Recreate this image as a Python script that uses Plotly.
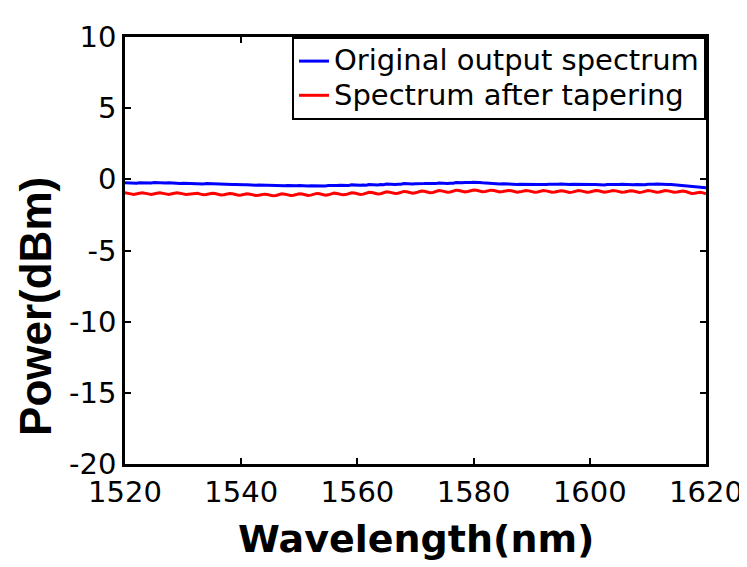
import numpy as np
import plotly.graph_objects as go

wavelength = np.arange(1520, 1620.5, 0.5)

original_output = [
    -0.24, -0.26, -0.23, -0.25, -0.27, -0.24,
    -0.25, -0.24, -0.26, -0.25, -0.23, -0.25,
    -0.25, -0.27, -0.26, -0.24, -0.26, -0.27,
    -0.27, -0.29, -0.27, -0.28, -0.30, -0.28,
    -0.29, -0.31, -0.30, -0.32, -0.30, -0.31,
    -0.32, -0.34, -0.33, -0.35, -0.33, -0.34,
    -0.35, -0.37, -0.36, -0.38, -0.37, -0.38,
    -0.38, -0.40, -0.39, -0.41, -0.40, -0.41,
    -0.41, -0.43, -0.42, -0.44, -0.42, -0.43,
    -0.43, -0.45, -0.44, -0.46, -0.44, -0.45,
    -0.44, -0.46, -0.45, -0.47, -0.45, -0.46,
    -0.43, -0.45, -0.44, -0.46, -0.44, -0.45,
    -0.41, -0.43, -0.42, -0.44, -0.42, -0.43,
    -0.39, -0.41, -0.40, -0.42, -0.40, -0.41,
    -0.36, -0.38, -0.37, -0.39, -0.37, -0.38,
    -0.33, -0.35, -0.34, -0.36, -0.34, -0.35,
    -0.30, -0.32, -0.31, -0.33, -0.31, -0.32,
    -0.28, -0.30, -0.29, -0.31, -0.29, -0.30,
    -0.26, -0.28, -0.27, -0.29, -0.27, -0.28,
    -0.23, -0.25, -0.24, -0.22, -0.24, -0.23,
    -0.21, -0.20, -0.22, -0.24, -0.26, -0.28,
    -0.29, -0.31, -0.30, -0.32, -0.31, -0.33,
    -0.33, -0.35, -0.34, -0.36, -0.35, -0.36,
    -0.35, -0.37, -0.36, -0.38, -0.36, -0.37,
    -0.34, -0.36, -0.35, -0.33, -0.35, -0.34,
    -0.33, -0.35, -0.34, -0.36, -0.34, -0.35,
    -0.35, -0.37, -0.36, -0.38, -0.36, -0.37,
    -0.36, -0.38, -0.37, -0.39, -0.37, -0.38,
    -0.35, -0.37, -0.36, -0.34, -0.36, -0.35,
    -0.36, -0.38, -0.37, -0.39, -0.37, -0.38,
    -0.34, -0.36, -0.35, -0.33, -0.35, -0.34,
    -0.35, -0.37, -0.36, -0.38, -0.37, -0.39,
    -0.40, -0.41, -0.43, -0.45, -0.47, -0.50,
    -0.53, -0.56, -0.60,
]

after_tapering = [
    -0.94, -0.96, -1.02, -1.06, -1.04, -0.98,
    -0.94, -0.96, -1.02, -1.06, -1.04, -0.98,
    -0.94, -0.96, -1.02, -1.06, -1.04, -0.98,
    -0.94, -0.96, -1.02, -1.06, -1.04, -0.98,
    -0.96, -0.98, -1.04, -1.08, -1.06, -1.00,
    -0.98, -1.00, -1.06, -1.10, -1.08, -1.02,
    -1.00, -1.02, -1.08, -1.12, -1.10, -1.04,
    -1.02, -1.04, -1.10, -1.14, -1.12, -1.06,
    -1.04, -1.06, -1.12, -1.16, -1.14, -1.08,
    -1.02, -1.04, -1.10, -1.14, -1.12, -1.06,
    -1.01, -1.03, -1.09, -1.13, -1.11, -1.05,
    -0.99, -1.01, -1.07, -1.11, -1.09, -1.03,
    -0.97, -0.99, -1.05, -1.09, -1.07, -1.01,
    -0.94, -0.96, -1.02, -1.06, -1.04, -0.98,
    -0.91, -0.93, -0.99, -1.03, -1.01, -0.95,
    -0.88, -0.90, -0.96, -1.00, -0.98, -0.92,
    -0.85, -0.87, -0.93, -0.97, -0.95, -0.89,
    -0.82, -0.84, -0.90, -0.94, -0.92, -0.86,
    -0.79, -0.81, -0.87, -0.91, -0.89, -0.83,
    -0.76, -0.78, -0.84, -0.88, -0.86, -0.80,
    -0.75, -0.77, -0.83, -0.87, -0.85, -0.79,
    -0.76, -0.78, -0.84, -0.88, -0.86, -0.80,
    -0.78, -0.80, -0.86, -0.90, -0.88, -0.82,
    -0.79, -0.81, -0.87, -0.91, -0.89, -0.83,
    -0.79, -0.81, -0.87, -0.91, -0.89, -0.83,
    -0.80, -0.82, -0.88, -0.92, -0.90, -0.84,
    -0.79, -0.81, -0.87, -0.91, -0.89, -0.83,
    -0.78, -0.80, -0.86, -0.90, -0.88, -0.82,
    -0.79, -0.81, -0.87, -0.91, -0.89, -0.83,
    -0.80, -0.82, -0.88, -0.92, -0.90, -0.84,
    -0.79, -0.81, -0.87, -0.91, -0.89, -0.83,
    -0.79, -0.81, -0.87, -0.91, -0.89, -0.83,
    -0.82, -0.86, -0.93, -0.99, -0.98, -0.94,
    -0.91, -0.95, -1.02,
]

x_ticks = [1520, 1540, 1560, 1580, 1600, 1620]
y_ticks = [-20, -15, -10, -5, 0, 5, 10]
series_names = ["Original output spectrum", "Spectrum after tapering"]
series_colors = ["#0000FF", "#FF0000"]
x_title = "Wavelength(nm)"
y_title = "Power(dBm)"

WIDE = "'DejaVu Sans', Arial, sans-serif"
ARIAL = "Arial, 'Liberation Sans', sans-serif"


def legend_label(name):
    # larger glyphs than the legend row height, like the tight MATLAB legend
    return "<span style='font-size:29px'>" + name + "</span>"


fig = go.Figure()
fig.add_trace(go.Scatter(x=wavelength, y=original_output, mode="lines",
                         name=legend_label(series_names[0]),
                         line=dict(color=series_colors[0], width=3)))
fig.add_trace(go.Scatter(x=wavelength, y=after_tapering, mode="lines",
                         name=legend_label(series_names[1]),
                         line=dict(color=series_colors[1], width=3)))

axis_common = dict(
    showline=True, linecolor="black", linewidth=2.5, mirror="ticks",
    ticks="inside", ticklen=6, tickwidth=2, tickcolor="black",
    showgrid=False, zeroline=False,
    tickfont=dict(family=WIDE, size=29, color="black"),
)

fig.update_layout(
    width=747, height=567,
    margin=dict(l=117, r=39, t=25, b=111),
    paper_bgcolor="white", plot_bgcolor="white",
    font=dict(family=WIDE, color="black"),
    showlegend=True,
    legend=dict(
        x=1, y=1, xanchor="right", yanchor="top",
        bgcolor="white", bordercolor="black", borderwidth=2,
        font=dict(family=WIDE, size=24, color="black"),
        tracegroupgap=0, itemwidth=30,
    ),
    xaxis=dict(
        range=[1520, 1620], tickvals=x_ticks, ticktext=[str(v) for v in x_ticks],
        **axis_common,
    ),
    yaxis=dict(
        range=[-20, 10], tickvals=y_ticks, ticktext=[str(v) for v in y_ticks],
        **axis_common,
    ),
    annotations=[
        dict(text="<b>" + x_title + "</b>", xref="paper", yref="paper",
             x=0.5, y=-0.176, xanchor="center", yanchor="middle", showarrow=False,
             font=dict(family=WIDE, size=38, color="black")),
        dict(text="<b>" + y_title + "</b>", xref="paper", yref="paper",
             x=-0.155, y=0.37, xanchor="center", yanchor="middle", showarrow=False,
             textangle=-90,
             font=dict(family=ARIAL, size=44, color="black")),
    ],
)

fig.write_html("out.html")
